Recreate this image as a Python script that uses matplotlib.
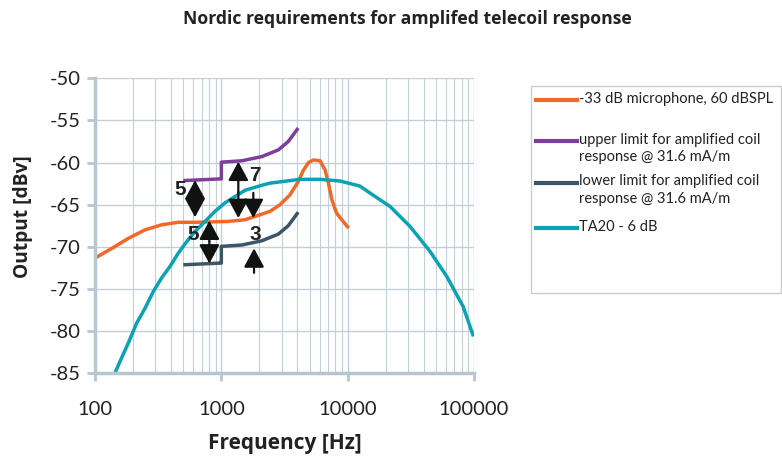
import matplotlib
matplotlib.use("Agg")
import matplotlib.pyplot as plt
from matplotlib.lines import Line2D
from matplotlib.patches import Rectangle

plt.rcParams["axes.unicode_minus"] = False

# ---- data ----
freq_mic = [100, 136, 184, 249, 337, 457, 619, 1137, 1540, 2430, 2920, 3490, 4060, 4470, 4900,
            5360, 6050, 6630, 7040, 7490, 8160, 9200, 10200]
mic = [-71.35, -70.2, -69.0, -68.0, -67.4, -67.1, -67.1, -67.0, -66.8, -65.8, -65.0, -63.85, -62.27,
       -60.9, -60.0, -59.7, -59.8, -60.9, -62.45, -64.4, -66.0, -67.0, -67.8]

freq_upper = [500, 975, 1000, 1000, 1450, 2090, 2830, 3390, 4060]
upper = [-62.15, -61.95, -61.95, -59.96, -59.8, -59.3, -58.5, -57.5, -55.9]

freq_lower = [500, 975, 1000, 1000, 1450, 2090, 2830, 3390, 4060]
lower = [-72.15, -71.95, -71.95, -69.96, -69.8, -69.3, -68.5, -67.5, -65.9]

freq_ta = [144, 158, 184, 214, 249, 290, 337, 392, 457, 532, 619, 742, 892, 1068, 1283, 1540,
           2100, 2430, 4200, 6050, 8700, 12500, 15050, 21700, 31200, 44900, 60700, 82000, 99000]
ta = [-85.0, -83.6, -81.4, -79.06, -77.3, -75.3, -73.7, -72.35, -70.75, -69.4, -68.2, -67.0, -65.8,
      -64.8, -64.05, -63.3, -62.7, -62.45, -62.0, -62.0, -62.2, -62.8, -63.64, -65.23, -67.6,
      -70.57, -73.5, -77.1, -80.65]

labels = ["-33 dB microphone, 60 dBSPL",
          "upper limit for amplified coil\nresponse @ 31.6 mA/m",
          "lower limit for amplified coil\nresponse @ 31.6 mA/m",
          "TA20 - 6 dB"]
colors = ["#f0692a", "#7d3f98", "#3e5566", "#0aa2b4"]

# annotation arrows: (x, y_start, y_end)
arrows = [(619, -64.3, -62.1), (619, -64.3, -66.5),
          (804, -69.4, -66.9), (804, -69.4, -72.0),
          (1363, -63.5, -59.9), (1363, -63.5, -66.6),
          (1792, -63.6, -66.6), (1815, -73.1, -70.2)]
arrow_texts = [("5", 471, -63.25), ("5", 594, -68.6), ("7", 1849, -61.5), ("3", 1849, -68.6)]

# ---- figure ----
fig = plt.figure(figsize=(7.82, 4.57), dpi=100)
ax = fig.add_axes([95 / 782, 1 - 373 / 457, (474 - 95) / 782, (373 - 78.3) / 457])

grid_c = "#c3cfd9"
ax.set_xscale("log")
ax.set_xlim(100, 100000)
ax.set_ylim(-85, -50)
ax.set_yticks(range(-85, -49, 5))
ax.grid(True, which="major", color=grid_c, lw=1.0)
ax.grid(True, which="minor", axis="x", color=grid_c, lw=0.8)
ax.set_axisbelow(True)

for s in ["top", "right"]:
    ax.spines[s].set_visible(False)
for s in ["left", "bottom"]:
    ax.spines[s].set_color("#b8c6d1")
    ax.spines[s].set_linewidth(2.5)

ax.tick_params(axis="both", which="major", color="#b8c6d1", width=2, length=6,
               labelsize=14.5, labelcolor="#222222")
ax.tick_params(axis="x", which="major", pad=14)
ax.tick_params(axis="y", which="major", pad=4)
ax.tick_params(axis="x", which="minor", length=0)
ax.set_xticks([100, 1000, 10000, 100000])
ax.set_xticklabels(["100", "1000", "10000", "100000"])
for lab in ax.get_xticklabels() + ax.get_yticklabels():
    lab.set_family("Lato")

lw = 2.5
ax.plot(freq_mic, mic, color=colors[0], lw=lw, solid_capstyle="butt", solid_joinstyle="round")
ax.plot(freq_upper, upper, color=colors[1], lw=lw, solid_capstyle="butt")
ax.plot(freq_lower, lower, color=colors[2], lw=lw, solid_capstyle="butt")
ax.plot(freq_ta, ta, color=colors[3], lw=lw, solid_capstyle="butt", solid_joinstyle="round")

for x, y0, y1 in arrows:
    ax.annotate("", xy=(x, y1), xytext=(x, y0),
                arrowprops=dict(arrowstyle="-|>,head_length=1.15,head_width=0.62",
                                mutation_scale=10, color="#111111", lw=1.6,
                                shrinkA=0, shrinkB=0))
for t, x, y in arrow_texts:
    ax.text(x, y, t, fontsize=15, fontweight="bold", family="Liberation Sans",
            color="#222222", ha="center", va="center")

ax.set_xlabel("Frequency [Hz]", fontsize=15, fontweight="bold", family="Open Sans",
              color="#222222", labelpad=11)
ax.set_ylabel("Output [dBv]", fontsize=13.8, fontweight="bold", family="Open Sans",
              color="#222222")
ax.yaxis.label.set_va("center")
ax.yaxis.set_label_coords((23 - 95) / 379, (373 - 217) / 294.7)
fig.text(407 / 782, 1 - 19 / 457, "Nordic requirements for amplifed telecoil response",
         ha="center", va="center", fontsize=12.7, fontweight="bold", family="Open Sans",
         color="#222222")

# ---- legend (manual) ----
fig.add_artist(Rectangle((531 / 782, 1 - 293 / 457), (781 - 531) / 782, (293 - 86) / 457,
                         transform=fig.transFigure, fill=False, edgecolor="#c3cfd9", lw=1))
ys = [100, 141, 183, 228]
for lab, c, y in zip(labels, colors, ys):
    fig.add_artist(Line2D([536 / 782, 577 / 782], [1 - y / 457, 1 - y / 457],
                          transform=fig.transFigure, color=c, lw=3))
    fig.text(579 / 782, 1 - (y - 8.5) / 457, lab, ha="left", va="top", fontsize=10.5,
             family="Lato", color="#222222", linespacing=1.3)

fig.savefig("out.png", dpi=100)
